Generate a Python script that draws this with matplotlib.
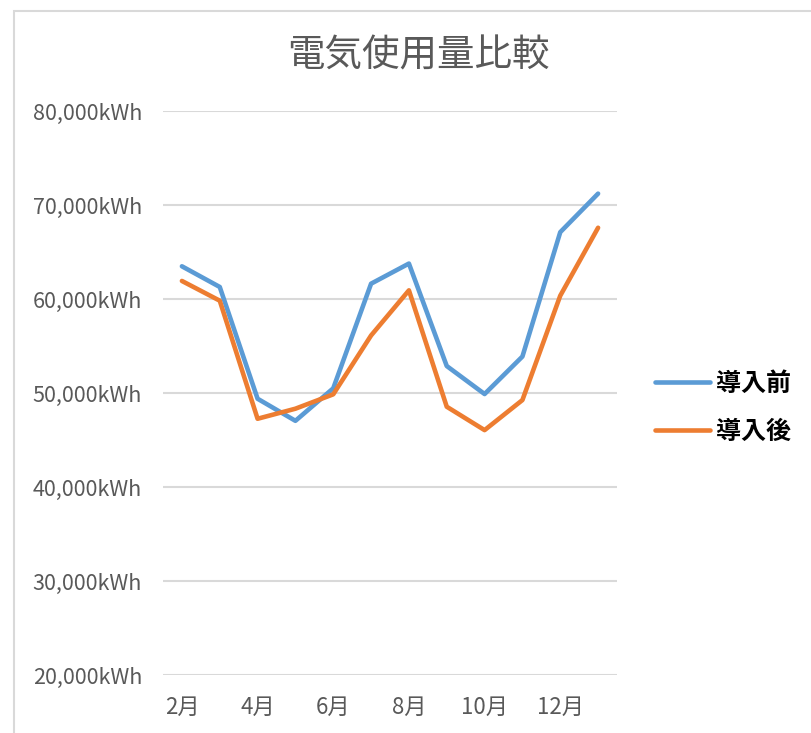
import matplotlib
matplotlib.use("Agg")
import matplotlib.pyplot as plt
from matplotlib.patches import Rectangle
from matplotlib.ticker import FuncFormatter, FixedLocator

plt.rcParams['font.family'] = ['Noto Sans CJK JP', 'DejaVu Sans']

months = ["2月", "3月", "4月", "5月", "6月", "7月", "8月", "9月", "10月", "11月", "12月", "1月"]
before = [63480, 61280, 49390, 47040, 50500, 61630, 63770, 52870, 49890, 53880, 67110, 71210]
after = [61920, 59820, 47260, 48330, 49860, 56120, 60920, 48540, 46050, 49250, 60350, 67580]
series_names = ["導入前", "導入後"]
title = "電気使用量比較"

W, H = 811, 733
fig = plt.figure(figsize=(W / 100, H / 100), dpi=100)

# outer chart border
fig.patches.append(Rectangle((13.5 / W, -0.05), 1.2, 1 - 10.5 / H + 0.05,
                             transform=fig.transFigure, fill=False,
                             edgecolor="#D9D9D9", linewidth=1.5))

ax = fig.add_axes([163 / W, 1 - 675 / H, (617 - 163) / W, (675 - 111) / H])
x = list(range(len(months)))
l1, = ax.plot(x, before, color="#5B9BD5", linewidth=3.3, solid_capstyle="round",
              solid_joinstyle="round", label=series_names[0])
l2, = ax.plot(x, after, color="#ED7D31", linewidth=3.3, solid_capstyle="round",
              solid_joinstyle="round", label=series_names[1])

ax.set_xlim(-0.5, len(months) - 0.5)
ax.set_ylim(20000, 80000)
ax.yaxis.set_major_locator(FixedLocator(range(20000, 80001, 10000)))
ax.yaxis.set_major_formatter(FuncFormatter(lambda v, p: f"{int(v):,}kWh"))
ax.set_xticks(x[::2])
ax.set_xticklabels(months[::2])
ax.grid(axis="y", color="#D9D9D9", linewidth=1.5)
ax.set_axisbelow(True)
for s in ax.spines.values():
    s.set_visible(False)
ax.tick_params(axis="y", length=0, labelsize=15.5, labelcolor="#595959", pad=15)
ax.tick_params(axis="x", length=0, labelsize=16, labelcolor="#595959", pad=15)

fig.text(418 / W, 1 - 56 / H, title, ha="center", va="center",
         fontsize=27, color="#595959")

fig.legend(handles=[l1, l2], loc="center left", bbox_to_anchor=(632.5 / W, 1 - 408 / H),
           frameon=False, labelspacing=0.97, handlelength=2.2,
           handletextpad=0.25, prop={"size": 18, "weight": "bold"})

fig.savefig("out.png", dpi=100)
